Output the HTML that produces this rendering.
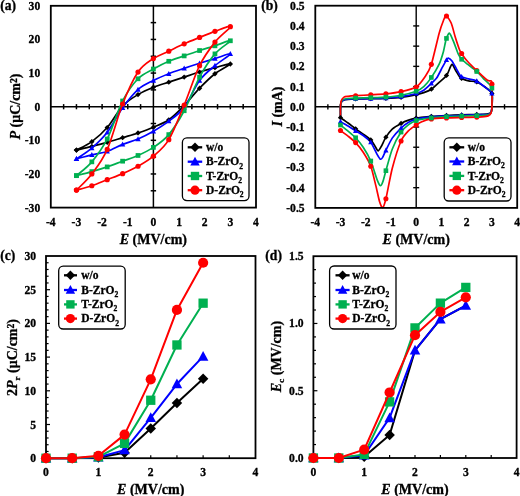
<!DOCTYPE html>
<html><head><meta charset="utf-8"><style>
html,body{margin:0;padding:0;background:#fff;width:520px;height:496px;overflow:hidden;}
svg{display:block;filter:blur(0.4px);}
text{font-family:"Liberation Serif", serif;stroke:#000;stroke-width:0.3px;}
</style></head><body>
<svg width="520" height="496" viewBox="0 0 520 496">
<rect width="520" height="496" fill="#fff"/>
<g stroke="#000" stroke-width="1.5">
<line x1="50.8" y1="106.7" x2="256" y2="106.7"/>
<line x1="153.4" y1="5.8" x2="153.4" y2="207.6"/>
<line x1="63.63" y1="104.1" x2="63.63" y2="109.3"/>
<line x1="76.45" y1="104.1" x2="76.45" y2="109.3"/>
<line x1="89.28" y1="104.1" x2="89.28" y2="109.3"/>
<line x1="102.1" y1="104.1" x2="102.1" y2="109.3"/>
<line x1="114.93" y1="104.1" x2="114.93" y2="109.3"/>
<line x1="127.75" y1="104.1" x2="127.75" y2="109.3"/>
<line x1="140.58" y1="104.1" x2="140.58" y2="109.3"/>
<line x1="166.22" y1="104.1" x2="166.22" y2="109.3"/>
<line x1="179.05" y1="104.1" x2="179.05" y2="109.3"/>
<line x1="191.88" y1="104.1" x2="191.88" y2="109.3"/>
<line x1="204.7" y1="104.1" x2="204.7" y2="109.3"/>
<line x1="217.53" y1="104.1" x2="217.53" y2="109.3"/>
<line x1="230.35" y1="104.1" x2="230.35" y2="109.3"/>
<line x1="243.18" y1="104.1" x2="243.18" y2="109.3"/>
<line x1="150.7" y1="190.78" x2="156.1" y2="190.78"/>
<line x1="150.7" y1="173.97" x2="156.1" y2="173.97"/>
<line x1="150.7" y1="157.15" x2="156.1" y2="157.15"/>
<line x1="150.7" y1="140.33" x2="156.1" y2="140.33"/>
<line x1="150.7" y1="123.52" x2="156.1" y2="123.52"/>
<line x1="150.7" y1="89.88" x2="156.1" y2="89.88"/>
<line x1="150.7" y1="73.07" x2="156.1" y2="73.07"/>
<line x1="150.7" y1="56.25" x2="156.1" y2="56.25"/>
<line x1="150.7" y1="39.43" x2="156.1" y2="39.43"/>
<line x1="150.7" y1="22.62" x2="156.1" y2="22.62"/>
</g>
<path d="M76.45,150.09 C79.02,149.47 86.71,147.68 91.84,146.39 C96.97,145.1 102.1,143.81 107.23,142.35 C112.36,140.89 117.49,139.21 122.62,137.64 C127.75,136.07 132.88,134.67 138.01,132.93 C143.14,131.2 148.27,129.4 153.4,127.22 C158.53,125.03 163.66,123.4 168.79,119.82 C173.92,116.23 179.05,110.96 184.18,105.69 C189.31,100.42 194.44,93.53 199.57,88.2 C204.7,82.88 209.83,77.78 214.96,73.74 C220.09,69.7 230.35,64.99 230.35,63.99 C230.35,62.98 220.09,66.34 214.96,67.69 C209.83,69.03 204.7,70.49 199.57,72.06 C194.44,73.63 189.31,75.42 184.18,77.1 C179.05,78.78 173.92,80.47 168.79,82.15 C163.66,83.83 158.53,85.12 153.4,87.19 C148.27,89.27 143.14,91.45 138.01,94.59 C132.88,97.73 127.75,100.53 122.62,106.03 C117.49,111.52 112.36,121.61 107.23,127.55 C102.1,133.49 96.97,137.92 91.84,141.68 C86.71,145.43 79.02,148.69 76.45,150.09" fill="none" stroke="#000000" stroke-width="1.7" stroke-linejoin="round"/>
<path d="M76.45,147.41 L79.13,150.09 L76.45,152.76 L73.77,150.09 Z" fill="#000000"/>
<path d="M91.84,143.71 L94.52,146.39 L91.84,149.06 L89.16,146.39 Z" fill="#000000"/>
<path d="M107.23,139.67 L109.91,142.35 L107.23,145.03 L104.55,142.35 Z" fill="#000000"/>
<path d="M122.62,134.97 L125.3,137.64 L122.62,140.32 L119.94,137.64 Z" fill="#000000"/>
<path d="M138.01,130.26 L140.69,132.93 L138.01,135.61 L135.33,132.93 Z" fill="#000000"/>
<path d="M153.4,124.54 L156.08,127.22 L153.4,129.89 L150.72,127.22 Z" fill="#000000"/>
<path d="M168.79,117.14 L171.47,119.82 L168.79,122.49 L166.11,119.82 Z" fill="#000000"/>
<path d="M184.18,103.01 L186.86,105.69 L184.18,108.37 L181.5,105.69 Z" fill="#000000"/>
<path d="M199.57,85.52 L202.25,88.2 L199.57,90.88 L196.89,88.2 Z" fill="#000000"/>
<path d="M214.96,71.06 L217.64,73.74 L214.96,76.42 L212.28,73.74 Z" fill="#000000"/>
<path d="M230.35,61.31 L233.03,63.99 L230.35,66.66 L227.67,63.99 Z" fill="#000000"/>
<path d="M214.96,65.01 L217.64,67.69 L214.96,70.36 L212.28,67.69 Z" fill="#000000"/>
<path d="M199.57,69.38 L202.25,72.06 L199.57,74.74 L196.89,72.06 Z" fill="#000000"/>
<path d="M184.18,74.43 L186.86,77.1 L184.18,79.78 L181.5,77.1 Z" fill="#000000"/>
<path d="M168.79,79.47 L171.47,82.15 L168.79,84.83 L166.11,82.15 Z" fill="#000000"/>
<path d="M153.4,84.52 L156.08,87.19 L153.4,89.87 L150.72,87.19 Z" fill="#000000"/>
<path d="M138.01,91.91 L140.69,94.59 L138.01,97.27 L135.33,94.59 Z" fill="#000000"/>
<path d="M122.62,103.35 L125.3,106.03 L122.62,108.7 L119.94,106.03 Z" fill="#000000"/>
<path d="M107.23,124.88 L109.91,127.55 L107.23,130.23 L104.55,127.55 Z" fill="#000000"/>
<path d="M91.84,139 L94.52,141.68 L91.84,144.36 L89.16,141.68 Z" fill="#000000"/>
<path d="M76.45,147.41 L79.13,150.09 L76.45,152.76 L73.77,150.09 Z" fill="#000000"/>
<path d="M76.45,158.83 C79.02,158.16 86.71,156.03 91.84,154.8 C96.97,153.56 102.1,153.17 107.23,151.43 C112.36,149.69 117.49,146.44 122.62,144.37 C127.75,142.3 132.88,141.17 138.01,138.99 C143.14,136.8 148.27,134.22 153.4,131.25 C158.53,128.28 163.66,125.14 168.79,121.16 C173.92,117.18 179.05,114.16 184.18,107.37 C189.31,100.59 194.44,87.42 199.57,80.47 C204.7,73.52 209.83,70.1 214.96,65.67 C220.09,61.24 230.35,55.07 230.35,53.9 C230.35,52.72 220.09,57.03 214.96,58.6 C209.83,60.17 204.7,61.69 199.57,63.31 C194.44,64.94 189.31,66.62 184.18,68.36 C179.05,70.1 173.92,71.72 168.79,73.74 C163.66,75.76 158.53,77.83 153.4,80.47 C148.27,83.1 143.14,85.01 138.01,89.55 C132.88,94.09 127.75,100.59 122.62,107.71 C117.49,114.83 112.36,125.53 107.23,132.26 C102.1,138.99 96.97,143.64 91.84,148.07 C86.71,152.5 79.02,157.04 76.45,158.83" fill="none" stroke="#0000ff" stroke-width="1.7" stroke-linejoin="round"/>
<path d="M76.45,156.03 L79.13,161 L73.77,161 Z" fill="#0000ff"/>
<path d="M91.84,151.99 L94.52,156.96 L89.16,156.96 Z" fill="#0000ff"/>
<path d="M107.23,148.63 L109.91,153.6 L104.55,153.6 Z" fill="#0000ff"/>
<path d="M122.62,141.56 L125.3,146.54 L119.94,146.54 Z" fill="#0000ff"/>
<path d="M138.01,136.18 L140.69,141.16 L135.33,141.16 Z" fill="#0000ff"/>
<path d="M153.4,128.45 L156.08,133.42 L150.72,133.42 Z" fill="#0000ff"/>
<path d="M168.79,118.36 L171.47,123.33 L166.11,123.33 Z" fill="#0000ff"/>
<path d="M184.18,104.57 L186.86,109.54 L181.5,109.54 Z" fill="#0000ff"/>
<path d="M199.57,77.66 L202.25,82.63 L196.89,82.63 Z" fill="#0000ff"/>
<path d="M214.96,62.86 L217.64,67.83 L212.28,67.83 Z" fill="#0000ff"/>
<path d="M230.35,51.09 L233.03,56.06 L227.67,56.06 Z" fill="#0000ff"/>
<path d="M214.96,55.8 L217.64,60.77 L212.28,60.77 Z" fill="#0000ff"/>
<path d="M199.57,60.51 L202.25,65.48 L196.89,65.48 Z" fill="#0000ff"/>
<path d="M184.18,65.55 L186.86,70.53 L181.5,70.53 Z" fill="#0000ff"/>
<path d="M168.79,70.93 L171.47,75.91 L166.11,75.91 Z" fill="#0000ff"/>
<path d="M153.4,77.66 L156.08,82.63 L150.72,82.63 Z" fill="#0000ff"/>
<path d="M138.01,86.74 L140.69,91.71 L135.33,91.71 Z" fill="#0000ff"/>
<path d="M122.62,104.9 L125.3,109.88 L119.94,109.88 Z" fill="#0000ff"/>
<path d="M107.23,129.46 L109.91,134.43 L104.55,134.43 Z" fill="#0000ff"/>
<path d="M91.84,145.26 L94.52,150.24 L89.16,150.24 Z" fill="#0000ff"/>
<path d="M76.45,156.03 L79.13,161 L73.77,161 Z" fill="#0000ff"/>
<path d="M76.45,175.65 C79.02,174.98 86.71,173.07 91.84,171.61 C96.97,170.15 102.1,168.64 107.23,166.9 C112.36,165.17 117.49,163.09 122.62,161.19 C127.75,159.28 132.88,157.77 138.01,155.47 C143.14,153.17 148.27,150.87 153.4,147.4 C158.53,143.92 163.66,140.73 168.79,134.62 C173.92,128.51 179.05,120.32 184.18,110.74 C189.31,101.15 194.44,86.58 199.57,77.1 C204.7,67.63 209.83,59.95 214.96,53.9 C220.09,47.84 230.35,42.12 230.35,40.78 C230.35,39.43 220.09,44.2 214.96,45.82 C209.83,47.45 204.7,48.85 199.57,50.53 C194.44,52.21 189.31,54.12 184.18,55.91 C179.05,57.71 173.92,59.11 168.79,61.3 C163.66,63.48 158.53,66.12 153.4,69.03 C148.27,71.95 143.14,73.46 138.01,78.78 C132.88,84.11 127.75,90.95 122.62,100.98 C117.49,111.02 112.36,128.84 107.23,138.99 C102.1,149.13 96.97,155.75 91.84,161.86 C86.71,167.97 79.02,173.35 76.45,175.65" fill="none" stroke="#00b050" stroke-width="1.7" stroke-linejoin="round"/>
<rect x="74.08" y="173.28" width="4.74" height="4.74" fill="#00b050"/>
<rect x="89.47" y="169.24" width="4.74" height="4.74" fill="#00b050"/>
<rect x="104.86" y="164.53" width="4.74" height="4.74" fill="#00b050"/>
<rect x="120.25" y="158.81" width="4.74" height="4.74" fill="#00b050"/>
<rect x="135.64" y="153.1" width="4.74" height="4.74" fill="#00b050"/>
<rect x="151.03" y="145.02" width="4.74" height="4.74" fill="#00b050"/>
<rect x="166.42" y="132.24" width="4.74" height="4.74" fill="#00b050"/>
<rect x="181.81" y="108.36" width="4.74" height="4.74" fill="#00b050"/>
<rect x="197.2" y="74.73" width="4.74" height="4.74" fill="#00b050"/>
<rect x="212.59" y="51.52" width="4.74" height="4.74" fill="#00b050"/>
<rect x="227.98" y="38.41" width="4.74" height="4.74" fill="#00b050"/>
<rect x="212.59" y="43.45" width="4.74" height="4.74" fill="#00b050"/>
<rect x="197.2" y="48.16" width="4.74" height="4.74" fill="#00b050"/>
<rect x="181.81" y="53.54" width="4.74" height="4.74" fill="#00b050"/>
<rect x="166.42" y="58.92" width="4.74" height="4.74" fill="#00b050"/>
<rect x="151.03" y="66.66" width="4.74" height="4.74" fill="#00b050"/>
<rect x="135.64" y="76.41" width="4.74" height="4.74" fill="#00b050"/>
<rect x="120.25" y="98.61" width="4.74" height="4.74" fill="#00b050"/>
<rect x="104.86" y="136.62" width="4.74" height="4.74" fill="#00b050"/>
<rect x="89.47" y="159.49" width="4.74" height="4.74" fill="#00b050"/>
<rect x="74.08" y="173.28" width="4.74" height="4.74" fill="#00b050"/>
<path d="M76.45,190.11 C79.02,189.38 86.71,187.48 91.84,185.74 C96.97,184 102.1,181.7 107.23,179.68 C112.36,177.67 117.49,175.87 122.62,173.63 C127.75,171.39 132.88,169.15 138.01,166.23 C143.14,163.32 148.27,160.57 153.4,156.14 C158.53,151.71 163.66,148.18 168.79,139.66 C173.92,131.14 179.05,117.35 184.18,105.02 C189.31,92.69 194.44,76.15 199.57,65.67 C204.7,55.18 209.83,48.63 214.96,42.12 C220.09,35.62 230.35,28.45 230.35,26.65 C230.35,24.86 220.09,29.57 214.96,31.36 C209.83,33.16 204.7,35.34 199.57,37.42 C194.44,39.49 189.31,41.51 184.18,43.81 C179.05,46.1 173.92,48.74 168.79,51.21 C163.66,53.67 158.53,55.13 153.4,58.6 C148.27,62.08 143.14,64.49 138.01,72.06 C132.88,79.63 127.75,91.12 122.62,104.01 C117.49,116.9 112.36,137.75 107.23,149.41 C102.1,161.07 96.97,167.18 91.84,173.97 C86.71,180.75 79.02,187.42 76.45,190.11" fill="none" stroke="#ff0000" stroke-width="1.7" stroke-linejoin="round"/>
<circle cx="76.45" cy="190.11" r="2.6" fill="#ff0000"/>
<circle cx="91.84" cy="185.74" r="2.6" fill="#ff0000"/>
<circle cx="107.23" cy="179.68" r="2.6" fill="#ff0000"/>
<circle cx="122.62" cy="173.63" r="2.6" fill="#ff0000"/>
<circle cx="138.01" cy="166.23" r="2.6" fill="#ff0000"/>
<circle cx="153.4" cy="156.14" r="2.6" fill="#ff0000"/>
<circle cx="168.79" cy="139.66" r="2.6" fill="#ff0000"/>
<circle cx="184.18" cy="105.02" r="2.6" fill="#ff0000"/>
<circle cx="199.57" cy="65.67" r="2.6" fill="#ff0000"/>
<circle cx="214.96" cy="42.12" r="2.6" fill="#ff0000"/>
<circle cx="230.35" cy="26.65" r="2.6" fill="#ff0000"/>
<circle cx="214.96" cy="31.36" r="2.6" fill="#ff0000"/>
<circle cx="199.57" cy="37.42" r="2.6" fill="#ff0000"/>
<circle cx="184.18" cy="43.81" r="2.6" fill="#ff0000"/>
<circle cx="168.79" cy="51.21" r="2.6" fill="#ff0000"/>
<circle cx="153.4" cy="58.6" r="2.6" fill="#ff0000"/>
<circle cx="138.01" cy="72.06" r="2.6" fill="#ff0000"/>
<circle cx="122.62" cy="104.01" r="2.6" fill="#ff0000"/>
<circle cx="107.23" cy="149.41" r="2.6" fill="#ff0000"/>
<circle cx="91.84" cy="173.97" r="2.6" fill="#ff0000"/>
<circle cx="76.45" cy="190.11" r="2.6" fill="#ff0000"/>
<rect x="50.8" y="5.8" width="205.2" height="201.8" fill="none" stroke="#000" stroke-width="1.8"/>
<text x="40.2" y="211.6" font-size="11.6" text-anchor="end" font-family="Liberation Serif" font-weight="bold" >-30</text>
<text x="40.2" y="177.97" font-size="11.6" text-anchor="end" font-family="Liberation Serif" font-weight="bold" >-20</text>
<text x="40.2" y="144.33" font-size="11.6" text-anchor="end" font-family="Liberation Serif" font-weight="bold" >-10</text>
<text x="40.2" y="110.7" font-size="11.6" text-anchor="end" font-family="Liberation Serif" font-weight="bold" >0</text>
<text x="40.2" y="77.07" font-size="11.6" text-anchor="end" font-family="Liberation Serif" font-weight="bold" >10</text>
<text x="40.2" y="43.43" font-size="11.6" text-anchor="end" font-family="Liberation Serif" font-weight="bold" >20</text>
<text x="40.2" y="9.8" font-size="11.6" text-anchor="end" font-family="Liberation Serif" font-weight="bold" >30</text>
<text x="50.8" y="226" font-size="11.6" text-anchor="middle" font-family="Liberation Serif" font-weight="bold" >-4</text>
<text x="76.45" y="226" font-size="11.6" text-anchor="middle" font-family="Liberation Serif" font-weight="bold" >-3</text>
<text x="102.1" y="226" font-size="11.6" text-anchor="middle" font-family="Liberation Serif" font-weight="bold" >-2</text>
<text x="127.75" y="226" font-size="11.6" text-anchor="middle" font-family="Liberation Serif" font-weight="bold" >-1</text>
<text x="153.4" y="226" font-size="11.6" text-anchor="middle" font-family="Liberation Serif" font-weight="bold" >0</text>
<text x="179.05" y="226" font-size="11.6" text-anchor="middle" font-family="Liberation Serif" font-weight="bold" >1</text>
<text x="204.7" y="226" font-size="11.6" text-anchor="middle" font-family="Liberation Serif" font-weight="bold" >2</text>
<text x="230.35" y="226" font-size="11.6" text-anchor="middle" font-family="Liberation Serif" font-weight="bold" >3</text>
<text x="256" y="226" font-size="11.6" text-anchor="middle" font-family="Liberation Serif" font-weight="bold" >4</text>
<text x="153.4" y="243.5" font-size="14" text-anchor="middle" font-family="Liberation Serif" font-weight="bold" ><tspan font-style="italic">E</tspan> (MV/cm)</text>
<text transform="translate(20,106.5) rotate(-90)" font-size="14" text-anchor="middle" font-family="Liberation Serif" font-weight="bold"><tspan font-style="italic">P</tspan> (μC/cm<tspan font-size="9.6" dy="-3.5">2</tspan><tspan dy="3.5">)</tspan></text>
<text x="0.3" y="9.6" font-size="13.6" text-anchor="start" font-family="Liberation Serif" font-weight="bold" >(a)</text>
<rect x="182.4" y="137.8" width="66.6" height="62.8" rx="4.5" ry="4.5" fill="#fff" stroke="#000" stroke-width="1.3"/>
<line x1="187.7" y1="147.3" x2="202.2" y2="147.3" stroke="#000000" stroke-width="2.3"/>
<path d="M195,142.58 L199.72,147.3 L195,152.03 L190.28,147.3 Z" fill="#000000"/>
<text x="206" y="151.09" font-size="11.5" text-anchor="start" font-family="Liberation Serif" font-weight="bold" >w/o</text>
<line x1="187.7" y1="161.7" x2="202.2" y2="161.7" stroke="#0000ff" stroke-width="2.3"/>
<path d="M195,156.75 L199.72,165.52 L190.28,165.52 Z" fill="#0000ff"/>
<text x="206" y="165.49" font-size="11.5" text-anchor="start" font-family="Liberation Serif" font-weight="bold" >B-ZrO<tspan font-size="7.59" dy="3.1">2</tspan></text>
<line x1="187.7" y1="176" x2="202.2" y2="176" stroke="#00b050" stroke-width="2.3"/>
<rect x="190.81" y="171.81" width="8.37" height="8.37" fill="#00b050"/>
<text x="206" y="179.79" font-size="11.5" text-anchor="start" font-family="Liberation Serif" font-weight="bold" >T-ZrO<tspan font-size="7.59" dy="3.1">2</tspan></text>
<line x1="187.7" y1="190.2" x2="202.2" y2="190.2" stroke="#ff0000" stroke-width="2.3"/>
<circle cx="195" cy="190.2" r="4.59" fill="#ff0000"/>
<text x="206" y="193.99" font-size="11.5" text-anchor="start" font-family="Liberation Serif" font-weight="bold" >D-ZrO<tspan font-size="7.59" dy="3.1">2</tspan></text>
<g stroke="#000" stroke-width="1.4">
<line x1="315.3" y1="106.8" x2="517.2" y2="106.8"/>
<line x1="416.2" y1="5.7" x2="416.2" y2="207.9"/>
<line x1="327.87" y1="104.2" x2="327.87" y2="109.4"/>
<line x1="340.49" y1="104.2" x2="340.49" y2="109.4"/>
<line x1="353.11" y1="104.2" x2="353.11" y2="109.4"/>
<line x1="365.72" y1="104.2" x2="365.72" y2="109.4"/>
<line x1="378.34" y1="104.2" x2="378.34" y2="109.4"/>
<line x1="390.96" y1="104.2" x2="390.96" y2="109.4"/>
<line x1="403.58" y1="104.2" x2="403.58" y2="109.4"/>
<line x1="428.82" y1="104.2" x2="428.82" y2="109.4"/>
<line x1="441.44" y1="104.2" x2="441.44" y2="109.4"/>
<line x1="454.06" y1="104.2" x2="454.06" y2="109.4"/>
<line x1="466.68" y1="104.2" x2="466.68" y2="109.4"/>
<line x1="479.29" y1="104.2" x2="479.29" y2="109.4"/>
<line x1="491.91" y1="104.2" x2="491.91" y2="109.4"/>
<line x1="504.53" y1="104.2" x2="504.53" y2="109.4"/>
<line x1="413.2" y1="187.68" x2="419.2" y2="187.68"/>
<line x1="413.2" y1="167.46" x2="419.2" y2="167.46"/>
<line x1="413.2" y1="147.24" x2="419.2" y2="147.24"/>
<line x1="413.2" y1="127.02" x2="419.2" y2="127.02"/>
<line x1="413.2" y1="86.58" x2="419.2" y2="86.58"/>
<line x1="413.2" y1="66.36" x2="419.2" y2="66.36"/>
<line x1="413.2" y1="46.14" x2="419.2" y2="46.14"/>
<line x1="413.2" y1="25.92" x2="419.2" y2="25.92"/>
</g>
<path d="M340.49,116.91 C340.49,115.7 340.4,108.55 340.49,106.8 C340.58,105.05 340.88,103.15 341.24,102.35 C341.61,101.55 342.7,100.49 343.52,100.13 C344.33,99.76 346.61,99.46 348.06,99.32 C349.51,99.17 352.9,98.99 355.63,98.91 C358.36,98.84 367.14,98.78 370.77,98.71 C374.41,98.64 382.28,98.48 385.91,98.31 C389.55,98.14 397.42,97.73 401.06,97.3 C404.69,96.86 413.47,95.23 416.2,94.67 C418.93,94.11 421.95,93.3 423.77,92.65 C425.59,91.99 429.46,90.47 431.34,89.21 C433.22,87.95 437.57,83.81 439.42,82.13 C441.27,80.46 445.25,77.37 446.74,75.26 C448.22,73.15 450.72,65.15 451.78,64.54 C452.84,63.93 454.6,68.67 455.57,70.2 C456.54,71.73 459.04,76.24 459.86,77.28 C460.68,78.32 461.32,78.46 462.38,78.9 C463.44,79.33 466.97,80.55 468.69,80.92 C470.42,81.28 474.86,81.23 476.77,81.93 C478.68,82.63 482.78,85.4 484.59,86.78 C486.41,88.17 491.03,90.93 491.91,93.45 C492.79,95.98 492.03,105.53 491.91,107.81 C491.79,110.09 491.36,111.73 490.9,112.46 C490.45,113.19 489.22,113.66 488.13,113.88 C487.04,114.1 483.18,114.21 481.82,114.28 C480.45,114.35 479.19,114.41 476.77,114.48 C474.35,114.56 465.26,114.77 461.63,114.89 C457.99,115.01 450.12,115.32 446.49,115.49 C442.85,115.66 434.37,116.09 431.34,116.3 C428.31,116.52 423.06,117.1 421.25,117.31 C419.43,117.53 417.71,117.78 416.2,118.12 C414.69,118.46 410.45,119.51 408.63,120.15 C406.81,120.78 403.03,122.31 401.06,123.38 C399.09,124.45 394.04,127.39 392.22,129.04 C390.41,130.69 387.22,135.07 385.91,137.13 C384.61,139.19 382.31,144.58 381.37,146.23 C380.43,147.88 378.85,150.88 378.09,150.88 C377.33,150.88 375.94,147.54 375.06,146.23 C374.18,144.92 372.2,141.42 370.77,139.96 C369.35,138.5 365.02,135.43 363.2,134.1 C361.38,132.76 357.45,130.17 355.63,128.84 C353.81,127.51 349.88,124.31 348.06,122.98 C346.24,121.64 341.4,118.35 340.49,117.72" fill="none" stroke="#000000" stroke-width="1.7" stroke-linejoin="round"/>
<path d="M340.49,116.91 C340.49,115.7 340.4,108.55 340.49,106.8 C340.58,105.05 340.88,103.18 341.24,102.35 C341.61,101.53 342.7,100.31 343.52,99.93 C344.33,99.54 346.61,99.26 348.06,99.12 C349.51,98.97 352.9,98.78 355.63,98.71 C358.36,98.64 367.14,98.58 370.77,98.51 C374.41,98.44 382.28,98.32 385.91,98.11 C389.55,97.89 397.42,97.25 401.06,96.69 C404.69,96.13 413.47,94.23 416.2,93.45 C418.93,92.68 421.98,91.41 423.77,90.22 C425.56,89.03 429.55,85 431.09,83.55 C432.63,82.09 435.28,80.05 436.64,78.09 C438.01,76.12 441.27,69.35 442.45,67.17 C443.63,64.99 445.79,60.98 446.49,59.89 C447.18,58.8 447.62,57.97 448.25,58.07 C448.89,58.17 450.82,59.44 451.78,60.7 C452.75,61.96 455.36,66.86 456.33,68.58 C457.3,70.31 459.16,74.04 459.86,75.05 C460.56,76.07 461.07,76.62 462.13,77.08 C463.19,77.54 466.97,78.44 468.69,78.9 C470.42,79.36 474.61,79.97 476.52,80.92 C478.43,81.86 482.75,85.28 484.59,86.78 C486.44,88.29 491.03,90.93 491.91,93.45 C492.79,95.98 492.03,105.51 491.91,107.81 C491.79,110.12 491.36,111.89 490.9,112.66 C490.45,113.44 489.22,114.04 488.13,114.28 C487.04,114.52 483.18,114.61 481.82,114.69 C480.45,114.76 479.19,114.82 476.77,114.89 C474.35,114.96 465.26,115.17 461.63,115.29 C457.99,115.41 450.12,115.7 446.49,115.9 C442.85,116.09 434.37,116.64 431.34,116.91 C428.31,117.18 423.06,117.86 421.25,118.12 C419.43,118.39 417.71,118.65 416.2,119.13 C414.69,119.62 410.45,121.1 408.63,122.17 C406.81,123.23 403.03,126.11 401.06,128.03 C399.09,129.95 394.04,135.47 392.22,138.14 C390.41,140.81 387.07,147.97 385.91,150.27 C384.76,152.58 383.3,156.28 382.63,157.35 C381.97,158.42 381.03,159.53 380.36,159.17 C379.7,158.81 378.23,156.36 377.08,154.32 C375.93,152.28 372.44,144.44 370.77,142.19 C369.11,139.93 365.02,136.87 363.2,135.51 C361.38,134.15 357.45,132 355.63,130.86 C353.81,129.72 349.88,127.13 348.06,126.01 C346.24,124.89 341.4,122.09 340.49,121.56" fill="none" stroke="#0000ff" stroke-width="1.7" stroke-linejoin="round"/>
<path d="M340.49,116.91 C340.49,115.7 340.4,108.6 340.49,106.8 C340.58,105 340.88,102.84 341.24,101.95 C341.61,101.05 342.7,99.73 343.52,99.32 C344.33,98.91 346.61,98.66 348.06,98.51 C349.51,98.36 352.9,98.2 355.63,98.11 C358.36,98.01 367.14,97.82 370.77,97.7 C374.41,97.58 382.28,97.39 385.91,97.09 C389.55,96.8 397.42,95.98 401.06,95.27 C404.69,94.57 413.47,92.27 416.2,91.23 C418.93,90.19 421.98,88.18 423.77,86.58 C425.56,84.98 429.24,80.58 431.09,77.89 C432.94,75.19 437.68,67.31 439.17,64.14 C440.65,60.96 442.61,54.43 443.46,51.4 C444.3,48.36 445.51,41.04 446.23,38.86 C446.96,36.68 448.57,32.71 449.51,33.2 C450.45,33.68 453,40.38 454.06,42.9 C455.12,45.43 457.44,52.26 458.35,54.23 C459.26,56.19 460.54,58.09 461.63,59.28 C462.72,60.47 465.65,62.7 467.43,64.14 C469.22,65.57 474.49,69.37 476.52,71.21 C478.55,73.06 482.49,77.46 484.34,79.5 C486.19,81.54 491,84.8 491.91,88.2 C492.82,91.59 492.03,104.85 491.91,107.81 C491.79,110.77 491.36,112.02 490.9,112.87 C490.45,113.72 489.22,114.57 488.13,114.89 C487.04,115.2 483.18,115.4 481.82,115.49 C480.45,115.59 479.19,115.62 476.77,115.7 C474.35,115.77 465.26,115.98 461.63,116.1 C457.99,116.22 450.12,116.49 446.49,116.71 C442.85,116.93 434.37,117.61 431.34,117.92 C428.31,118.24 423.06,119.02 421.25,119.34 C419.43,119.65 417.71,119.92 416.2,120.55 C414.69,121.18 410.45,123.21 408.63,124.59 C406.81,125.98 403.03,129.11 401.06,132.07 C399.09,135.04 394.04,144.63 392.22,149.26 C390.41,153.9 387.04,166.81 385.91,170.7 C384.79,174.58 383.55,179.82 382.89,181.61 C382.22,183.41 381.06,185.9 380.36,185.66 C379.67,185.42 378.23,182.55 377.08,179.59 C375.93,176.63 372.44,164.87 370.77,160.99 C369.11,157.11 365.02,150.03 363.2,147.24 C361.38,144.45 357.45,139.68 355.63,137.74 C353.81,135.8 349.88,132.59 348.06,131.06 C346.24,129.54 341.4,125.73 340.49,125" fill="none" stroke="#00b050" stroke-width="1.7" stroke-linejoin="round"/>
<path d="M340.49,116.91 C340.49,115.7 340.4,108.74 340.49,106.8 C340.58,104.86 340.82,101.9 341.24,100.73 C341.67,99.57 343.2,97.63 344.02,97.09 C344.84,96.56 346.67,96.46 348.06,96.29 C349.45,96.12 352.9,95.85 355.63,95.68 C358.36,95.51 367.14,95.09 370.77,94.87 C374.41,94.65 382.28,94.25 385.91,93.86 C389.55,93.47 397.42,92.46 401.06,91.63 C404.69,90.81 413.32,88.78 416.2,86.98 C419.08,85.19 423.25,79.27 425.03,76.67 C426.82,74.08 429.39,70.57 431.09,65.35 C432.79,60.13 437.68,38.59 439.17,33.2 C440.65,27.81 442.61,22.57 443.46,20.46 C444.3,18.35 445.29,15.27 446.23,15.61 C447.17,15.95 450.19,20.7 451.28,23.29 C452.37,25.89 454.32,34.04 455.32,37.24 C456.32,40.45 458.79,47.92 459.61,49.98 C460.43,52.04 461.19,53.07 462.13,54.43 C463.07,55.79 465.71,59.39 467.43,61.3 C469.16,63.22 474.13,68.12 476.52,70.4 C478.91,72.68 485.61,79.05 487.37,80.31 C489.13,81.57 490.61,80.46 491.16,80.92 C491.7,81.38 491.82,80.93 491.91,84.15 C492,87.38 492.03,104.32 491.91,107.81 C491.79,111.31 491.36,112.3 490.9,113.27 C490.45,114.24 489.22,115.46 488.13,115.9 C487.04,116.34 483.18,116.76 481.82,116.91 C480.45,117.06 479.19,117.04 476.77,117.11 C474.35,117.18 465.26,117.42 461.63,117.52 C457.99,117.61 450.12,117.75 446.49,117.92 C442.85,118.09 434.37,118.45 431.34,118.93 C428.31,119.42 423.06,121.24 421.25,121.97 C419.43,122.69 417.71,123.95 416.2,125 C414.69,126.04 410.45,128.74 408.63,130.66 C406.81,132.58 403.03,136.43 401.06,140.97 C399.09,145.51 394.04,161.53 392.22,168.47 C390.41,175.41 387.07,194.09 385.91,198.8 C384.76,203.51 383.39,207.33 382.63,207.7 C381.88,208.06 380.42,204.48 379.61,201.83 C378.79,199.19 376.88,189.93 375.82,185.66 C374.76,181.39 372.29,170.25 370.77,166.25 C369.26,162.24 365.02,155.13 363.2,152.3 C361.38,149.46 357.45,144.53 355.63,142.59 C353.81,140.65 349.88,137.57 348.06,136.12 C346.24,134.66 341.4,131.14 340.49,130.46" fill="none" stroke="#ff0000" stroke-width="1.7" stroke-linejoin="round"/>
<circle cx="340.49" cy="130.46" r="2.55" fill="#ff0000"/>
<circle cx="355.63" cy="95.68" r="2.55" fill="#ff0000"/>
<circle cx="355.63" cy="142.59" r="2.55" fill="#ff0000"/>
<circle cx="370.77" cy="94.87" r="2.55" fill="#ff0000"/>
<circle cx="370.77" cy="166.25" r="2.55" fill="#ff0000"/>
<circle cx="385.91" cy="93.86" r="2.55" fill="#ff0000"/>
<circle cx="385.91" cy="198.8" r="2.55" fill="#ff0000"/>
<circle cx="401.06" cy="91.63" r="2.55" fill="#ff0000"/>
<circle cx="401.06" cy="140.97" r="2.55" fill="#ff0000"/>
<circle cx="416.2" cy="86.98" r="2.55" fill="#ff0000"/>
<circle cx="416.2" cy="125" r="2.55" fill="#ff0000"/>
<circle cx="431.34" cy="64.34" r="2.55" fill="#ff0000"/>
<circle cx="431.34" cy="118.93" r="2.55" fill="#ff0000"/>
<circle cx="446.49" cy="15.99" r="2.55" fill="#ff0000"/>
<circle cx="446.49" cy="117.92" r="2.55" fill="#ff0000"/>
<circle cx="461.63" cy="53.54" r="2.55" fill="#ff0000"/>
<circle cx="461.63" cy="117.52" r="2.55" fill="#ff0000"/>
<circle cx="476.77" cy="70.63" r="2.55" fill="#ff0000"/>
<circle cx="476.77" cy="117.11" r="2.55" fill="#ff0000"/>
<circle cx="491.91" cy="84.15" r="2.55" fill="#ff0000"/>
<path d="M340.49,115.09 L343.11,117.72 L340.49,120.34 L337.86,117.72 Z" fill="#000000"/>
<path d="M355.63,96.29 L358.25,98.91 L355.63,101.54 L353,98.91 Z" fill="#000000"/>
<path d="M355.63,126.21 L358.25,128.84 L355.63,131.46 L353,128.84 Z" fill="#000000"/>
<path d="M370.77,96.09 L373.4,98.71 L370.77,101.34 L368.15,98.71 Z" fill="#000000"/>
<path d="M370.77,137.34 L373.4,139.96 L370.77,142.59 L368.15,139.96 Z" fill="#000000"/>
<path d="M385.91,95.68 L388.54,98.31 L385.91,100.93 L383.29,98.31 Z" fill="#000000"/>
<path d="M385.91,134.5 L388.54,137.13 L385.91,139.75 L383.29,137.13 Z" fill="#000000"/>
<path d="M401.06,94.67 L403.68,97.3 L401.06,99.92 L398.43,97.3 Z" fill="#000000"/>
<path d="M401.06,120.76 L403.68,123.38 L401.06,126.01 L398.43,123.38 Z" fill="#000000"/>
<path d="M416.2,92.04 L418.82,94.67 L416.2,97.29 L413.57,94.67 Z" fill="#000000"/>
<path d="M416.2,115.5 L418.82,118.12 L416.2,120.75 L413.57,118.12 Z" fill="#000000"/>
<path d="M431.34,86.58 L433.97,89.21 L431.34,91.83 L428.72,89.21 Z" fill="#000000"/>
<path d="M431.34,113.68 L433.97,116.3 L431.34,118.93 L428.72,116.3 Z" fill="#000000"/>
<path d="M446.49,72.87 L449.11,75.49 L446.49,78.12 L443.86,75.49 Z" fill="#000000"/>
<path d="M446.49,112.87 L449.11,115.49 L446.49,118.12 L443.86,115.49 Z" fill="#000000"/>
<path d="M461.63,75.79 L464.25,78.41 L461.63,81.04 L459,78.41 Z" fill="#000000"/>
<path d="M461.63,112.26 L464.25,114.89 L461.63,117.51 L459,114.89 Z" fill="#000000"/>
<path d="M476.77,79.3 L479.39,81.93 L476.77,84.55 L474.14,81.93 Z" fill="#000000"/>
<path d="M476.77,111.86 L479.39,114.48 L476.77,117.11 L474.14,114.48 Z" fill="#000000"/>
<path d="M491.91,90.83 L494.54,93.45 L491.91,96.08 L489.29,93.45 Z" fill="#000000"/>
<path d="M340.49,118.81 L343.11,123.69 L337.86,123.69 Z" fill="#0000ff"/>
<path d="M355.63,95.96 L358.25,100.84 L353,100.84 Z" fill="#0000ff"/>
<path d="M355.63,128.11 L358.25,132.99 L353,132.99 Z" fill="#0000ff"/>
<path d="M370.77,95.76 L373.4,100.63 L368.15,100.63 Z" fill="#0000ff"/>
<path d="M370.77,139.44 L373.4,144.31 L368.15,144.31 Z" fill="#0000ff"/>
<path d="M385.91,95.36 L388.54,100.23 L383.29,100.23 Z" fill="#0000ff"/>
<path d="M385.91,147.52 L388.54,152.4 L383.29,152.4 Z" fill="#0000ff"/>
<path d="M401.06,93.94 L403.68,98.81 L398.43,98.81 Z" fill="#0000ff"/>
<path d="M401.06,125.28 L403.68,130.16 L398.43,130.16 Z" fill="#0000ff"/>
<path d="M416.2,90.7 L418.82,95.58 L413.57,95.58 Z" fill="#0000ff"/>
<path d="M416.2,116.38 L418.82,121.26 L413.57,121.26 Z" fill="#0000ff"/>
<path d="M431.34,80.55 L433.97,85.42 L428.72,85.42 Z" fill="#0000ff"/>
<path d="M431.34,114.16 L433.97,119.03 L428.72,119.03 Z" fill="#0000ff"/>
<path d="M446.49,57.14 L449.11,62.01 L443.86,62.01 Z" fill="#0000ff"/>
<path d="M446.49,113.15 L449.11,118.02 L443.86,118.02 Z" fill="#0000ff"/>
<path d="M461.63,73.88 L464.25,78.75 L459,78.75 Z" fill="#0000ff"/>
<path d="M461.63,112.54 L464.25,117.42 L459,117.42 Z" fill="#0000ff"/>
<path d="M476.77,78.35 L479.39,83.23 L474.14,83.23 Z" fill="#0000ff"/>
<path d="M476.77,112.14 L479.39,117.01 L474.14,117.01 Z" fill="#0000ff"/>
<path d="M491.91,90.7 L494.54,95.58 L489.29,95.58 Z" fill="#0000ff"/>
<rect x="338.16" y="122.67" width="4.65" height="4.65" fill="#00b050"/>
<rect x="353.31" y="95.78" width="4.65" height="4.65" fill="#00b050"/>
<rect x="353.31" y="135.41" width="4.65" height="4.65" fill="#00b050"/>
<rect x="368.45" y="95.38" width="4.65" height="4.65" fill="#00b050"/>
<rect x="368.45" y="158.66" width="4.65" height="4.65" fill="#00b050"/>
<rect x="383.59" y="94.77" width="4.65" height="4.65" fill="#00b050"/>
<rect x="383.59" y="168.37" width="4.65" height="4.65" fill="#00b050"/>
<rect x="398.73" y="92.95" width="4.65" height="4.65" fill="#00b050"/>
<rect x="398.73" y="129.75" width="4.65" height="4.65" fill="#00b050"/>
<rect x="413.88" y="88.91" width="4.65" height="4.65" fill="#00b050"/>
<rect x="413.88" y="118.22" width="4.65" height="4.65" fill="#00b050"/>
<rect x="429.02" y="75.13" width="4.65" height="4.65" fill="#00b050"/>
<rect x="429.02" y="115.6" width="4.65" height="4.65" fill="#00b050"/>
<rect x="444.16" y="36.1" width="4.65" height="4.65" fill="#00b050"/>
<rect x="444.16" y="114.38" width="4.65" height="4.65" fill="#00b050"/>
<rect x="459.3" y="56.96" width="4.65" height="4.65" fill="#00b050"/>
<rect x="459.3" y="113.78" width="4.65" height="4.65" fill="#00b050"/>
<rect x="474.44" y="69.16" width="4.65" height="4.65" fill="#00b050"/>
<rect x="474.44" y="113.37" width="4.65" height="4.65" fill="#00b050"/>
<rect x="489.59" y="85.87" width="4.65" height="4.65" fill="#00b050"/>
<rect x="315.3" y="5.7" width="201.9" height="202.2" fill="none" stroke="#000" stroke-width="1.8"/>
<text x="304.6" y="211.9" font-size="11.6" text-anchor="end" font-family="Liberation Serif" font-weight="bold" >-0.5</text>
<text x="304.6" y="191.68" font-size="11.6" text-anchor="end" font-family="Liberation Serif" font-weight="bold" >-0.4</text>
<text x="304.6" y="171.46" font-size="11.6" text-anchor="end" font-family="Liberation Serif" font-weight="bold" >-0.3</text>
<text x="304.6" y="151.24" font-size="11.6" text-anchor="end" font-family="Liberation Serif" font-weight="bold" >-0.2</text>
<text x="304.6" y="131.02" font-size="11.6" text-anchor="end" font-family="Liberation Serif" font-weight="bold" >-0.1</text>
<text x="304.6" y="110.8" font-size="11.6" text-anchor="end" font-family="Liberation Serif" font-weight="bold" >0.0</text>
<text x="304.6" y="90.58" font-size="11.6" text-anchor="end" font-family="Liberation Serif" font-weight="bold" >0.1</text>
<text x="304.6" y="70.36" font-size="11.6" text-anchor="end" font-family="Liberation Serif" font-weight="bold" >0.2</text>
<text x="304.6" y="50.14" font-size="11.6" text-anchor="end" font-family="Liberation Serif" font-weight="bold" >0.3</text>
<text x="304.6" y="29.92" font-size="11.6" text-anchor="end" font-family="Liberation Serif" font-weight="bold" >0.4</text>
<text x="304.6" y="9.7" font-size="11.6" text-anchor="end" font-family="Liberation Serif" font-weight="bold" >0.5</text>
<text x="315.25" y="226" font-size="11.6" text-anchor="middle" font-family="Liberation Serif" font-weight="bold" >-4</text>
<text x="340.49" y="226" font-size="11.6" text-anchor="middle" font-family="Liberation Serif" font-weight="bold" >-3</text>
<text x="365.72" y="226" font-size="11.6" text-anchor="middle" font-family="Liberation Serif" font-weight="bold" >-2</text>
<text x="390.96" y="226" font-size="11.6" text-anchor="middle" font-family="Liberation Serif" font-weight="bold" >-1</text>
<text x="416.2" y="226" font-size="11.6" text-anchor="middle" font-family="Liberation Serif" font-weight="bold" >0</text>
<text x="441.44" y="226" font-size="11.6" text-anchor="middle" font-family="Liberation Serif" font-weight="bold" >1</text>
<text x="466.68" y="226" font-size="11.6" text-anchor="middle" font-family="Liberation Serif" font-weight="bold" >2</text>
<text x="491.91" y="226" font-size="11.6" text-anchor="middle" font-family="Liberation Serif" font-weight="bold" >3</text>
<text x="517.15" y="226" font-size="11.6" text-anchor="middle" font-family="Liberation Serif" font-weight="bold" >4</text>
<text x="416.2" y="243.5" font-size="14" text-anchor="middle" font-family="Liberation Serif" font-weight="bold" ><tspan font-style="italic">E</tspan> (MV/cm)</text>
<text transform="translate(282,106.5) rotate(-90)" font-size="14" text-anchor="middle" font-family="Liberation Serif" font-weight="bold"><tspan font-style="italic">I</tspan> (mA)</text>
<text x="261.2" y="9.6" font-size="13.6" text-anchor="start" font-family="Liberation Serif" font-weight="bold" >(b)</text>
<rect x="444.2" y="137.8" width="66.8" height="63.2" rx="4.5" ry="4.5" fill="#fff" stroke="#000" stroke-width="1.3"/>
<line x1="449.4" y1="147.3" x2="464.2" y2="147.3" stroke="#000000" stroke-width="2.3"/>
<path d="M456.8,142.58 L461.53,147.3 L456.8,152.03 L452.07,147.3 Z" fill="#000000"/>
<text x="467.8" y="151.09" font-size="11.5" text-anchor="start" font-family="Liberation Serif" font-weight="bold" >w/o</text>
<line x1="449.4" y1="161.5" x2="464.2" y2="161.5" stroke="#0000ff" stroke-width="2.3"/>
<path d="M456.8,156.55 L461.53,165.32 L452.07,165.32 Z" fill="#0000ff"/>
<text x="467.8" y="165.29" font-size="11.5" text-anchor="start" font-family="Liberation Serif" font-weight="bold" >B-ZrO<tspan font-size="7.59" dy="3.1">2</tspan></text>
<line x1="449.4" y1="175.9" x2="464.2" y2="175.9" stroke="#00b050" stroke-width="2.3"/>
<rect x="452.62" y="171.72" width="8.37" height="8.37" fill="#00b050"/>
<text x="467.8" y="179.69" font-size="11.5" text-anchor="start" font-family="Liberation Serif" font-weight="bold" >T-ZrO<tspan font-size="7.59" dy="3.1">2</tspan></text>
<line x1="449.4" y1="190.2" x2="464.2" y2="190.2" stroke="#ff0000" stroke-width="2.3"/>
<circle cx="456.8" cy="190.2" r="4.59" fill="#ff0000"/>
<text x="467.8" y="193.99" font-size="11.5" text-anchor="start" font-family="Liberation Serif" font-weight="bold" >D-ZrO<tspan font-size="7.59" dy="3.1">2</tspan></text>
<g stroke="#000" stroke-width="1.2">
<line x1="46" y1="451.46" x2="48.6" y2="451.46"/>
<line x1="46" y1="444.72" x2="48.6" y2="444.72"/>
<line x1="46" y1="437.98" x2="48.6" y2="437.98"/>
<line x1="46" y1="431.24" x2="48.6" y2="431.24"/>
<line x1="46" y1="424.5" x2="50" y2="424.5"/>
<line x1="46" y1="417.76" x2="48.6" y2="417.76"/>
<line x1="46" y1="411.02" x2="48.6" y2="411.02"/>
<line x1="46" y1="404.28" x2="48.6" y2="404.28"/>
<line x1="46" y1="397.54" x2="48.6" y2="397.54"/>
<line x1="46" y1="390.8" x2="50" y2="390.8"/>
<line x1="46" y1="384.06" x2="48.6" y2="384.06"/>
<line x1="46" y1="377.32" x2="48.6" y2="377.32"/>
<line x1="46" y1="370.58" x2="48.6" y2="370.58"/>
<line x1="46" y1="363.84" x2="48.6" y2="363.84"/>
<line x1="46" y1="357.1" x2="50" y2="357.1"/>
<line x1="46" y1="350.36" x2="48.6" y2="350.36"/>
<line x1="46" y1="343.62" x2="48.6" y2="343.62"/>
<line x1="46" y1="336.88" x2="48.6" y2="336.88"/>
<line x1="46" y1="330.14" x2="48.6" y2="330.14"/>
<line x1="46" y1="323.4" x2="50" y2="323.4"/>
<line x1="46" y1="316.66" x2="48.6" y2="316.66"/>
<line x1="46" y1="309.92" x2="48.6" y2="309.92"/>
<line x1="46" y1="303.18" x2="48.6" y2="303.18"/>
<line x1="46" y1="296.44" x2="48.6" y2="296.44"/>
<line x1="46" y1="289.7" x2="50" y2="289.7"/>
<line x1="46" y1="282.96" x2="48.6" y2="282.96"/>
<line x1="46" y1="276.22" x2="48.6" y2="276.22"/>
<line x1="46" y1="269.48" x2="48.6" y2="269.48"/>
<line x1="46" y1="262.74" x2="48.6" y2="262.74"/>
<line x1="72.19" y1="458.2" x2="72.19" y2="455.2"/>
<line x1="98.38" y1="458.2" x2="98.38" y2="455.2"/>
<line x1="124.56" y1="458.2" x2="124.56" y2="455.2"/>
<line x1="150.75" y1="458.2" x2="150.75" y2="455.2"/>
<line x1="176.94" y1="458.2" x2="176.94" y2="455.2"/>
<line x1="203.12" y1="458.2" x2="203.12" y2="455.2"/>
<line x1="229.31" y1="458.2" x2="229.31" y2="455.2"/>
</g>
<rect x="46" y="256" width="209.5" height="202.2" fill="none" stroke="#000" stroke-width="1.8"/>
<path d="M46,458.2 L72.19,458.2 L98.38,457.53 L124.56,452.81 L150.75,428.54 L176.94,402.93 L203.12,378.67" fill="none" stroke="#000000" stroke-width="2" stroke-linejoin="round"/>
<path d="M46,452.95 L51.25,458.2 L46,463.45 L40.75,458.2 Z" fill="#000000"/>
<path d="M72.19,452.95 L77.44,458.2 L72.19,463.45 L66.94,458.2 Z" fill="#000000"/>
<path d="M98.38,452.28 L103.62,457.53 L98.38,462.78 L93.12,457.53 Z" fill="#000000"/>
<path d="M124.56,447.56 L129.81,452.81 L124.56,458.06 L119.31,452.81 Z" fill="#000000"/>
<path d="M150.75,423.29 L156,428.54 L150.75,433.79 L145.5,428.54 Z" fill="#000000"/>
<path d="M176.94,397.68 L182.19,402.93 L176.94,408.18 L171.69,402.93 Z" fill="#000000"/>
<path d="M203.12,373.42 L208.38,378.67 L203.12,383.92 L197.88,378.67 Z" fill="#000000"/>
<path d="M46,458.2 L72.19,458.2 L98.38,457.19 L124.56,450.11 L150.75,417.76 L176.94,384.06 L203.12,356.43" fill="none" stroke="#0000ff" stroke-width="2" stroke-linejoin="round"/>
<path d="M46,452.7 L51.25,462.45 L40.75,462.45 Z" fill="#0000ff"/>
<path d="M72.19,452.7 L77.44,462.45 L66.94,462.45 Z" fill="#0000ff"/>
<path d="M98.38,451.69 L103.62,461.44 L93.12,461.44 Z" fill="#0000ff"/>
<path d="M124.56,444.61 L129.81,454.36 L119.31,454.36 Z" fill="#0000ff"/>
<path d="M150.75,412.26 L156,422.01 L145.5,422.01 Z" fill="#0000ff"/>
<path d="M176.94,378.56 L182.19,388.31 L171.69,388.31 Z" fill="#0000ff"/>
<path d="M203.12,350.93 L208.38,360.68 L197.88,360.68 Z" fill="#0000ff"/>
<path d="M46,458.2 L72.19,458.2 L98.38,456.85 L124.56,443.37 L150.75,400.24 L176.94,344.97 L203.12,303.18" fill="none" stroke="#00b050" stroke-width="2" stroke-linejoin="round"/>
<rect x="41.35" y="453.55" width="9.3" height="9.3" fill="#00b050"/>
<rect x="67.54" y="453.55" width="9.3" height="9.3" fill="#00b050"/>
<rect x="93.72" y="452.2" width="9.3" height="9.3" fill="#00b050"/>
<rect x="119.91" y="438.72" width="9.3" height="9.3" fill="#00b050"/>
<rect x="146.1" y="395.59" width="9.3" height="9.3" fill="#00b050"/>
<rect x="172.29" y="340.32" width="9.3" height="9.3" fill="#00b050"/>
<rect x="198.47" y="298.53" width="9.3" height="9.3" fill="#00b050"/>
<path d="M46,458.2 L72.19,458.2 L98.38,455.84 L124.56,434.61 L150.75,379.34 L176.94,309.92 L203.12,262.74" fill="none" stroke="#ff0000" stroke-width="2" stroke-linejoin="round"/>
<circle cx="46" cy="458.2" r="5.1" fill="#ff0000"/>
<circle cx="72.19" cy="458.2" r="5.1" fill="#ff0000"/>
<circle cx="98.38" cy="455.84" r="5.1" fill="#ff0000"/>
<circle cx="124.56" cy="434.61" r="5.1" fill="#ff0000"/>
<circle cx="150.75" cy="379.34" r="5.1" fill="#ff0000"/>
<circle cx="176.94" cy="309.92" r="5.1" fill="#ff0000"/>
<circle cx="203.12" cy="262.74" r="5.1" fill="#ff0000"/>
<text x="36" y="462.2" font-size="11.6" text-anchor="end" font-family="Liberation Serif" font-weight="bold" >0</text>
<text x="36" y="428.5" font-size="11.6" text-anchor="end" font-family="Liberation Serif" font-weight="bold" >5</text>
<text x="36" y="394.8" font-size="11.6" text-anchor="end" font-family="Liberation Serif" font-weight="bold" >10</text>
<text x="36" y="361.1" font-size="11.6" text-anchor="end" font-family="Liberation Serif" font-weight="bold" >15</text>
<text x="36" y="327.4" font-size="11.6" text-anchor="end" font-family="Liberation Serif" font-weight="bold" >20</text>
<text x="36" y="293.7" font-size="11.6" text-anchor="end" font-family="Liberation Serif" font-weight="bold" >25</text>
<text x="36" y="260" font-size="11.6" text-anchor="end" font-family="Liberation Serif" font-weight="bold" >30</text>
<text x="46" y="476" font-size="11.6" text-anchor="middle" font-family="Liberation Serif" font-weight="bold" >0</text>
<text x="98.38" y="476" font-size="11.6" text-anchor="middle" font-family="Liberation Serif" font-weight="bold" >1</text>
<text x="150.75" y="476" font-size="11.6" text-anchor="middle" font-family="Liberation Serif" font-weight="bold" >2</text>
<text x="203.12" y="476" font-size="11.6" text-anchor="middle" font-family="Liberation Serif" font-weight="bold" >3</text>
<text x="255.5" y="476" font-size="11.6" text-anchor="middle" font-family="Liberation Serif" font-weight="bold" >4</text>
<text x="150.75" y="493.5" font-size="14" text-anchor="middle" font-family="Liberation Serif" font-weight="bold" ><tspan font-style="italic">E</tspan> (MV/cm)</text>
<text transform="translate(17.3,357.5) rotate(-90)" font-size="14" text-anchor="middle" font-family="Liberation Serif" font-weight="bold">2<tspan font-style="italic">P</tspan><tspan font-size="9" dy="3">r</tspan><tspan dy="-3"> (μC/cm</tspan><tspan font-size="9.6" dy="-3.5">2</tspan><tspan dy="3.5">)</tspan></text>
<text x="0.2" y="260.3" font-size="13.6" text-anchor="start" font-family="Liberation Serif" font-weight="bold" >(c)</text>
<rect x="58.7" y="266.2" width="66.5" height="62.8" rx="4.5" ry="4.5" fill="#fff" stroke="#000" stroke-width="1.3"/>
<line x1="64" y1="275.3" x2="77" y2="275.3" stroke="#000000" stroke-width="2.3"/>
<path d="M70.4,270.57 L75.12,275.3 L70.4,280.03 L65.68,275.3 Z" fill="#000000"/>
<text x="81.3" y="279.1" font-size="11.5" text-anchor="start" font-family="Liberation Serif" font-weight="bold" >w/o</text>
<line x1="64" y1="290" x2="77" y2="290" stroke="#0000ff" stroke-width="2.3"/>
<path d="M70.4,285.05 L75.12,293.82 L65.68,293.82 Z" fill="#0000ff"/>
<text x="81.3" y="293.8" font-size="11.5" text-anchor="start" font-family="Liberation Serif" font-weight="bold" >B-ZrO<tspan font-size="7.59" dy="3.1">2</tspan></text>
<line x1="64" y1="304.4" x2="77" y2="304.4" stroke="#00b050" stroke-width="2.3"/>
<rect x="66.22" y="300.21" width="8.37" height="8.37" fill="#00b050"/>
<text x="81.3" y="308.19" font-size="11.5" text-anchor="start" font-family="Liberation Serif" font-weight="bold" >T-ZrO<tspan font-size="7.59" dy="3.1">2</tspan></text>
<line x1="64" y1="318.6" x2="77" y2="318.6" stroke="#ff0000" stroke-width="2.3"/>
<circle cx="70.4" cy="318.6" r="4.59" fill="#ff0000"/>
<text x="81.3" y="322.4" font-size="11.5" text-anchor="start" font-family="Liberation Serif" font-weight="bold" >D-ZrO<tspan font-size="7.59" dy="3.1">2</tspan></text>
<g stroke="#000" stroke-width="1.2">
<line x1="313.4" y1="444.55" x2="316" y2="444.55"/>
<line x1="313.4" y1="431.09" x2="316" y2="431.09"/>
<line x1="313.4" y1="417.64" x2="316" y2="417.64"/>
<line x1="313.4" y1="404.19" x2="316" y2="404.19"/>
<line x1="313.4" y1="390.73" x2="317.4" y2="390.73"/>
<line x1="313.4" y1="377.28" x2="316" y2="377.28"/>
<line x1="313.4" y1="363.83" x2="316" y2="363.83"/>
<line x1="313.4" y1="350.37" x2="316" y2="350.37"/>
<line x1="313.4" y1="336.92" x2="316" y2="336.92"/>
<line x1="313.4" y1="323.47" x2="317.4" y2="323.47"/>
<line x1="313.4" y1="310.01" x2="316" y2="310.01"/>
<line x1="313.4" y1="296.56" x2="316" y2="296.56"/>
<line x1="313.4" y1="283.11" x2="316" y2="283.11"/>
<line x1="313.4" y1="269.65" x2="316" y2="269.65"/>
<line x1="338.8" y1="458" x2="338.8" y2="455"/>
<line x1="364.2" y1="458" x2="364.2" y2="455"/>
<line x1="389.6" y1="458" x2="389.6" y2="455"/>
<line x1="415" y1="458" x2="415" y2="455"/>
<line x1="440.4" y1="458" x2="440.4" y2="455"/>
<line x1="465.8" y1="458" x2="465.8" y2="455"/>
<line x1="491.2" y1="458" x2="491.2" y2="455"/>
</g>
<rect x="313.4" y="256.2" width="203.2" height="201.8" fill="none" stroke="#000" stroke-width="1.8"/>
<path d="M313.4,458 L338.8,458 L364.2,456.65 L389.6,434.99 L415,350.37 L440.4,319.16 L465.8,305.57" fill="none" stroke="#000000" stroke-width="2" stroke-linejoin="round"/>
<path d="M313.4,452.75 L318.65,458 L313.4,463.25 L308.15,458 Z" fill="#000000"/>
<path d="M338.8,452.75 L344.05,458 L338.8,463.25 L333.55,458 Z" fill="#000000"/>
<path d="M364.2,451.4 L369.45,456.65 L364.2,461.9 L358.95,456.65 Z" fill="#000000"/>
<path d="M389.6,429.74 L394.85,434.99 L389.6,440.24 L384.35,434.99 Z" fill="#000000"/>
<path d="M313.4,458 L338.8,458 L364.2,455.31 L389.6,417.91 L415,350.37 L440.4,319.16 L465.8,305.57" fill="none" stroke="#0000ff" stroke-width="2" stroke-linejoin="round"/>
<path d="M313.4,452.5 L318.65,462.25 L308.15,462.25 Z" fill="#0000ff"/>
<path d="M338.8,452.5 L344.05,462.25 L333.55,462.25 Z" fill="#0000ff"/>
<path d="M364.2,449.81 L369.45,459.56 L358.95,459.56 Z" fill="#0000ff"/>
<path d="M389.6,412.41 L394.85,422.16 L384.35,422.16 Z" fill="#0000ff"/>
<path d="M415,344.87 L420.25,354.62 L409.75,354.62 Z" fill="#0000ff"/>
<path d="M440.4,313.66 L445.65,323.41 L435.15,323.41 Z" fill="#0000ff"/>
<path d="M465.8,300.07 L471.05,309.82 L460.55,309.82 Z" fill="#0000ff"/>
<path d="M313.4,458 L338.8,458 L364.2,454.37 L389.6,401.9 L415,327.91 L440.4,303.15 L465.8,287.41" fill="none" stroke="#00b050" stroke-width="2" stroke-linejoin="round"/>
<rect x="308.75" y="453.35" width="9.3" height="9.3" fill="#00b050"/>
<rect x="334.15" y="453.35" width="9.3" height="9.3" fill="#00b050"/>
<rect x="359.55" y="449.72" width="9.3" height="9.3" fill="#00b050"/>
<rect x="384.95" y="397.25" width="9.3" height="9.3" fill="#00b050"/>
<rect x="410.35" y="323.26" width="9.3" height="9.3" fill="#00b050"/>
<rect x="435.75" y="298.5" width="9.3" height="9.3" fill="#00b050"/>
<rect x="461.15" y="282.76" width="9.3" height="9.3" fill="#00b050"/>
<path d="M313.4,458 L338.8,458 L364.2,449.66 L389.6,392.48 L415,335.17 L440.4,311.9 L465.8,297.37" fill="none" stroke="#ff0000" stroke-width="2" stroke-linejoin="round"/>
<circle cx="313.4" cy="458" r="5.1" fill="#ff0000"/>
<circle cx="338.8" cy="458" r="5.1" fill="#ff0000"/>
<circle cx="364.2" cy="449.66" r="5.1" fill="#ff0000"/>
<circle cx="389.6" cy="392.48" r="5.1" fill="#ff0000"/>
<circle cx="415" cy="335.17" r="5.1" fill="#ff0000"/>
<circle cx="440.4" cy="311.9" r="5.1" fill="#ff0000"/>
<circle cx="465.8" cy="297.37" r="5.1" fill="#ff0000"/>
<text x="303.6" y="462" font-size="11.6" text-anchor="end" font-family="Liberation Serif" font-weight="bold" >0.0</text>
<text x="303.6" y="394.73" font-size="11.6" text-anchor="end" font-family="Liberation Serif" font-weight="bold" >0.5</text>
<text x="303.6" y="327.47" font-size="11.6" text-anchor="end" font-family="Liberation Serif" font-weight="bold" >1.0</text>
<text x="303.6" y="260.2" font-size="11.6" text-anchor="end" font-family="Liberation Serif" font-weight="bold" >1.5</text>
<text x="313.4" y="476" font-size="11.6" text-anchor="middle" font-family="Liberation Serif" font-weight="bold" >0</text>
<text x="364.2" y="476" font-size="11.6" text-anchor="middle" font-family="Liberation Serif" font-weight="bold" >1</text>
<text x="415" y="476" font-size="11.6" text-anchor="middle" font-family="Liberation Serif" font-weight="bold" >2</text>
<text x="465.8" y="476" font-size="11.6" text-anchor="middle" font-family="Liberation Serif" font-weight="bold" >3</text>
<text x="516.6" y="476" font-size="11.6" text-anchor="middle" font-family="Liberation Serif" font-weight="bold" >4</text>
<text x="415" y="493.5" font-size="14" text-anchor="middle" font-family="Liberation Serif" font-weight="bold" ><tspan font-style="italic">E</tspan> (MV/cm)</text>
<text transform="translate(281,356.5) rotate(-90)" font-size="14" text-anchor="middle" font-family="Liberation Serif" font-weight="bold"><tspan font-style="italic">E</tspan><tspan font-size="9" dy="3">c</tspan><tspan dy="-3"> (MV/cm)</tspan></text>
<text x="265.3" y="260.3" font-size="13.6" text-anchor="start" font-family="Liberation Serif" font-weight="bold" >(d)</text>
<rect x="329.6" y="266" width="66.4" height="63" rx="4.5" ry="4.5" fill="#fff" stroke="#000" stroke-width="1.3"/>
<line x1="335.5" y1="275.3" x2="349.6" y2="275.3" stroke="#000000" stroke-width="2.3"/>
<path d="M342.6,270.57 L347.33,275.3 L342.6,280.03 L337.88,275.3 Z" fill="#000000"/>
<text x="352.3" y="279.1" font-size="11.5" text-anchor="start" font-family="Liberation Serif" font-weight="bold" >w/o</text>
<line x1="335.5" y1="290" x2="349.6" y2="290" stroke="#0000ff" stroke-width="2.3"/>
<path d="M342.6,285.05 L347.33,293.82 L337.88,293.82 Z" fill="#0000ff"/>
<text x="352.3" y="293.8" font-size="11.5" text-anchor="start" font-family="Liberation Serif" font-weight="bold" >B-ZrO<tspan font-size="7.59" dy="3.1">2</tspan></text>
<line x1="335.5" y1="304.4" x2="349.6" y2="304.4" stroke="#00b050" stroke-width="2.3"/>
<rect x="338.42" y="300.21" width="8.37" height="8.37" fill="#00b050"/>
<text x="352.3" y="308.19" font-size="11.5" text-anchor="start" font-family="Liberation Serif" font-weight="bold" >T-ZrO<tspan font-size="7.59" dy="3.1">2</tspan></text>
<line x1="335.5" y1="318.6" x2="349.6" y2="318.6" stroke="#ff0000" stroke-width="2.3"/>
<circle cx="342.6" cy="318.6" r="4.59" fill="#ff0000"/>
<text x="352.3" y="322.4" font-size="11.5" text-anchor="start" font-family="Liberation Serif" font-weight="bold" >D-ZrO<tspan font-size="7.59" dy="3.1">2</tspan></text>
</svg>
</body></html>
